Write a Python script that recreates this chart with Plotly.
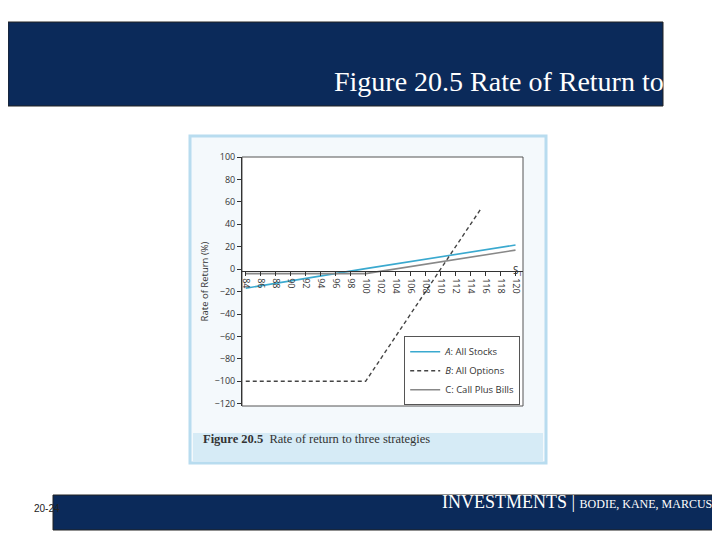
import plotly.graph_objects as go

a_x = [84, 100, 120]
a_y = [-17, 0.5, 21.5]
b_x = [84, 100, 115.5]
b_y = [-100, -100, 55]
c_x = [84, 100, 120]
c_y = [-4, -4, 17]
x_ticks = list(range(84, 121, 2))
y_ticks = list(range(-120, 101, 20))

fig = go.Figure()
fig.add_trace(go.Scatter(x=a_x, y=a_y, mode="lines", name="<i>A</i>: All Stocks",
                         line=dict(color="#3aa9cf", width=1.6)))
fig.add_trace(go.Scatter(x=b_x, y=b_y, mode="lines", name="<i>B</i>: All Options",
                         line=dict(color="#444444", width=1.4, dash="4px,3px")))
fig.add_trace(go.Scatter(x=c_x, y=c_y, mode="lines", name="C: Call Plus Bills",
                         line=dict(color="#888888", width=1.6)))

L, R, T, B = 234, 720 - 515, 149, 540 - 398
W, H = 720 - L - R, 540 - T - B
fig.update_layout(
    width=720, height=540, paper_bgcolor="white", plot_bgcolor="white",
    margin=dict(l=L, r=R, t=T, b=B, autoexpand=False), showlegend=True,
    font=dict(family="Open Sans", size=9, color="#333"),
    legend=dict(x=0.99, y=0.28, xanchor="right", yanchor="top", bordercolor="#555",
                borderwidth=1, bgcolor="white", font=dict(size=9.5)),
    xaxis=dict(range=[83.5, 121], tickvals=x_ticks, tickangle=90, anchor="free",
               position=120 / 222, showgrid=False, zeroline=False, showline=True,
               linecolor="#333", ticks="outside", ticklen=4, tickcolor="#333",
               tickfont=dict(size=9), automargin=False),
    yaxis=dict(range=[-122, 100], tickmode="array", tickvals=y_ticks,
               ticktext=[("−" + str(-v)) if v < 0 else str(v) for v in y_ticks],
               showgrid=False, zeroline=False, showline=True, linecolor="#333",
               ticks="outside", ticklen=4, tickcolor="#333", automargin=False,
               title=dict(text="Rate of Return (%)", font=dict(size=9.5), standoff=4),
               tickfont=dict(size=9)),
)

def px(x0, y0, x1, y1, **kw):
    return dict(type="rect", xref="paper", yref="paper",
                x0=(x0 - L) / W, x1=(x1 - L) / W,
                y0=(540 - B - y1) / H, y1=(540 - B - y0) / H, **kw)

shapes = [
    px(0, 14, 655, 98, fillcolor="#0b2a5a", line=dict(color="#222", width=1), layer="below"),
    px(182, 128, 538, 455, fillcolor="#f4f9fc", line=dict(color="#b8dcef", width=3), layer="below"),
    px(185, 425, 535, 453, fillcolor="#d6ebf6", line=dict(width=0), layer="below"),
    px(234, 149, 515, 398, fillcolor="white", line=dict(color="#555", width=1), layer="below"),
    px(45, 487, 720, 522, fillcolor="#0b2a5a", line=dict(color="#222", width=1), layer="below"),
]
fig.update_layout(shapes=shapes)

def ann(x, y, text, **kw):
    return dict(xref="paper", yref="paper", x=(x - L) / W, y=(540 - B - y) / H,
                text=text, showarrow=False, **kw)

fig.update_layout(annotations=[
    ann(324, 56, "Figure 20.5 Rate of Return to Three<br>Strategies",
        font=dict(family="Liberation Serif", size=28, color="white")),
    ann(193, 440, "<b>Figure 20.5</b>  Rate of return to three strategies", xanchor="left",
        font=dict(family="Liberation Serif", size=12.5, color="#333")),
    ann(24, 508, "20-24", font=dict(family="Liberation Sans", size=10, color="#222")),
    ann(706, 506, "INVESTMENTS | <span style='font-size:12px'>BODIE, KANE, MARCUS</span>",
        xanchor="right", font=dict(family="Liberation Serif", size=18, color="white")),
    ann(503, 262, "S<sub>T</sub>", xanchor="left", font=dict(size=10, color="#333")),
])

fig.write_html("out.html")
